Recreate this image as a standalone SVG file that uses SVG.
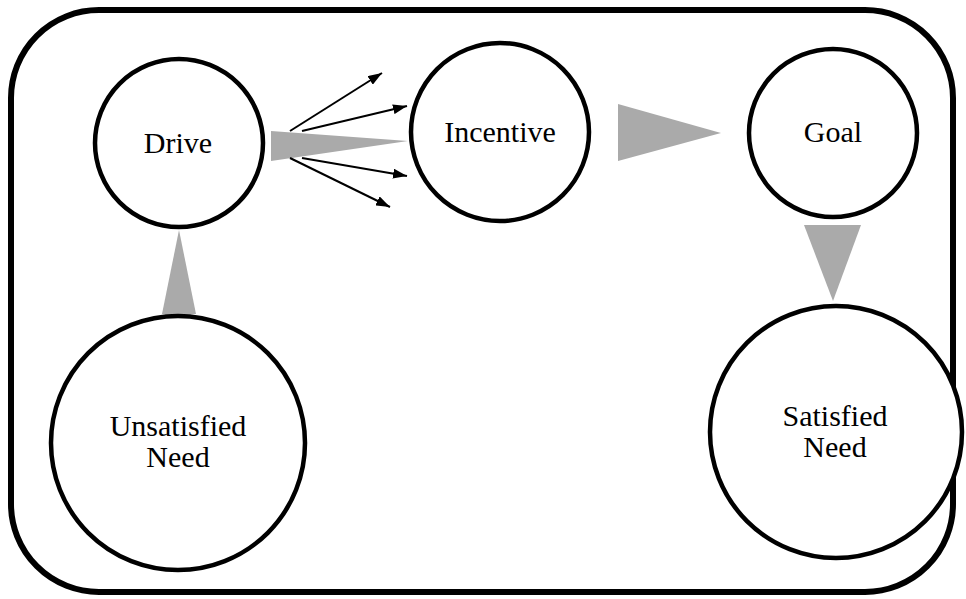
<svg xmlns="http://www.w3.org/2000/svg" width="966" height="599" viewBox="0 0 966 599">
<style>
.node{fill:#fff;stroke:#000;stroke-width:4.5}
.lbl{font-family:"Liberation Serif","Times New Roman",serif;font-size:30px;fill:#000;text-anchor:middle}
.wedge{fill:#aaaaaa;stroke:none}
.arr{stroke:#000;stroke-width:2;fill:none;marker-end:url(#ah)}
</style>
<defs>
<marker id="ah" viewBox="0 0 14 10" refX="14" refY="5" markerWidth="14" markerHeight="10" markerUnits="userSpaceOnUse" orient="auto">
<path d="M0,0 L14,5 L0,10 Z" fill="#000"/>
</marker>
</defs>
<rect id="frame" x="11" y="10" width="942" height="582" rx="88" ry="88" fill="#fff" stroke="#000" stroke-width="6"/>
<g id="connectors">
<polygon class="wedge" points="271,131 408,141 271,161"/>
<polygon class="wedge" points="618,104 721,133 618,161"/>
<polygon class="wedge" points="804,225 861,225 833,301"/>
<polygon class="wedge" points="162,314 196,314 179,230"/>
<line class="arr" x1="290" y1="131" x2="382" y2="73"/>
<line class="arr" x1="302" y1="131" x2="407" y2="106"/>
<line class="arr" x1="302" y1="158" x2="407" y2="176"/>
<line class="arr" x1="290" y1="158" x2="390" y2="207"/>
</g>
<g id="drive">
<circle class="node" cx="179" cy="143" r="84"/>
<text class="lbl" x="178" y="153">Drive</text>
</g>
<g id="incentive">
<circle class="node" cx="500" cy="132" r="89"/>
<text class="lbl" x="500" y="142">Incentive</text>
</g>
<g id="goal">
<circle class="node" cx="833" cy="133" r="84"/>
<text class="lbl" x="833" y="142">Goal</text>
</g>
<g id="unsatisfied">
<circle class="node" cx="178" cy="443" r="127"/>
<text class="lbl" x="178" y="436">Unsatisfied</text>
<text class="lbl" x="178" y="467">Need</text>
</g>
<g id="satisfied">
<circle class="node" cx="836" cy="432" r="126"/>
<text class="lbl" x="835" y="426">Satisfied</text>
<text class="lbl" x="835" y="457">Need</text>
</g>
</svg>
